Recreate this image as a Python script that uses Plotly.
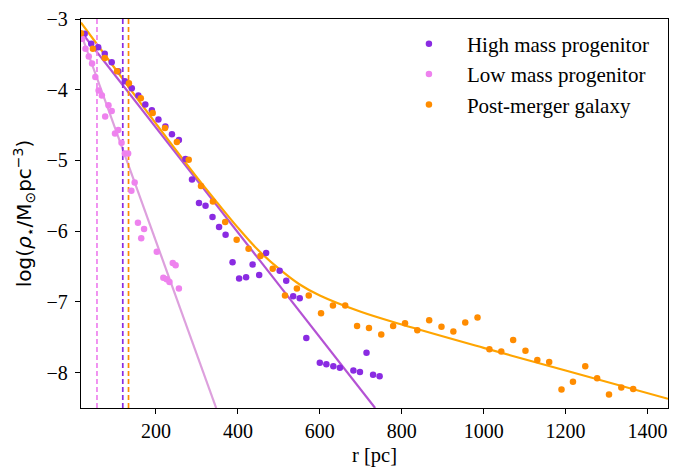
import plotly.graph_objects as go

# ---- data ----
high_r = [26, 42, 59, 75, 92, 108, 124, 141, 157, 174, 190, 206, 223, 239, 256, 272, 288,
          305, 321, 338, 354, 370, 387, 403, 420, 436, 452, 469, 502, 518, 535, 551, 567,
          600, 616, 633, 649, 682, 698, 714, 730, 746]
high_y = [-3.21, -3.35, -3.40, -3.49, -3.61, -3.74, -3.88, -3.98, -4.08, -4.21, -4.29, -4.42,
          -4.52, -4.63, -4.71, -4.98, -5.27, -5.60, -5.64, -5.80, -5.94, -6.05, -6.44, -6.67,
          -6.65, -6.47, -6.62, -6.31, -6.56, -6.70, -6.92, -6.95, -7.51, -7.86, -7.88, -7.91,
          -7.93, -7.97, -7.99, -7.72, -8.03, -8.05]

low_r = [20, 28, 36, 44, 52, 60, 68, 76, 84, 92, 100, 108, 116, 124, 132, 140, 148, 156,
         164, 171, 202, 218, 226, 233, 241, 248, 256]
low_y = [-3.28, -3.42, -3.53, -3.63, -3.82, -4.01, -4.08, -4.38, -4.22, -4.30, -4.62, -4.57,
         -4.75, -4.90, -4.90, -5.43, -5.31, -5.88, -6.10, -5.97, -6.29, -6.66, -6.68, -6.72,
         -6.45, -6.48, -6.81]

post_r = [17, 46, 75, 105, 134, 163, 192, 222, 251, 280, 310, 339, 369, 397, 426, 455, 485,
          515, 544, 573, 603, 632, 662, 691, 720, 750, 779, 808, 838, 867, 897, 926, 955, 985,
          1014, 1043, 1072, 1102, 1131, 1160, 1190, 1218, 1248, 1277, 1306, 1336, 1365]
post_y = [-3.20, -3.42, -3.55, -3.74, -3.91, -4.12, -4.33, -4.54, -4.74, -4.99, -5.36, -5.58,
          -5.87, -6.12, -6.25, -6.35, -6.53, -6.91, -6.81, -6.91, -7.16, -7.05, -7.05, -7.34,
          -7.37, -7.46, -7.34, -7.30, -7.40, -7.26, -7.35, -7.42, -7.29, -7.22, -7.67, -7.70,
          -7.54, -7.69, -7.82, -7.85, -8.24, -8.13, -7.91, -8.08, -8.31, -8.21, -8.23]

# fitted profiles
high_fit_r = [17, 735]
high_fit_y = [-3.18, -8.50]
low_fit_r = [17, 347]
low_fit_y = [-3.21, -8.50]
post_fit_r = [17, 100, 200, 300, 350, 400, 450, 500, 550, 600, 700, 800, 1000, 1200, 1450]
post_fit_y = [-3.05, -3.70, -4.48, -5.24, -5.60, -5.95, -6.27, -6.53, -6.75, -6.91, -7.14,
              -7.32, -7.65, -7.97, -8.37]

# characteristic radii (dashed lines)
r_low, r_high, r_post = 56, 119, 133

labels = ["High mass progenitor", "Low mass progenitor", "Post-merger galaxy"]
dot_colors = ["#8a2be2", "#ee82ee", "#ff8c00"]
line_colors = ["#b452d4", "#dda0dd", "#ffa500"]

SERIF = "Liberation Serif"

fig = go.Figure()

# fit lines
fig.add_trace(go.Scatter(x=low_fit_r, y=low_fit_y, mode="lines",
                         line=dict(color=line_colors[1], width=2.2), showlegend=False, hoverinfo="skip"))
fig.add_trace(go.Scatter(x=high_fit_r, y=high_fit_y, mode="lines",
                         line=dict(color=line_colors[0], width=2.2), showlegend=False, hoverinfo="skip"))
fig.add_trace(go.Scatter(x=post_fit_r, y=post_fit_y, mode="lines", line_shape="spline",
                         line=dict(color=line_colors[2], width=2.2), showlegend=False, hoverinfo="skip"))

# vertical dashed lines
for rv, col in [(r_low, dot_colors[1]), (r_high, dot_colors[0]), (r_post, dot_colors[2])]:
    fig.add_trace(go.Scatter(x=[rv, rv], y=[-8.5, -3], mode="lines",
                             line=dict(color=col, width=1.7, dash="5px,3px"),
                             showlegend=False, hoverinfo="skip"))

# data points
for i, (xs, ys) in enumerate([(high_r, high_y), (low_r, low_y), (post_r, post_y)]):
    fig.add_trace(go.Scatter(x=xs, y=ys, mode="markers", name=labels[i],
                             marker=dict(color=dot_colors[i], size=6.5, line=dict(width=0))))

axis_common = dict(showline=True, linecolor="black", linewidth=1.3, mirror=True,
                   ticks="outside", ticklen=5, tickwidth=1.2, tickcolor="black",
                   showgrid=False, zeroline=False, automargin=False,
                   tickfont=dict(family=SERIF, size=20, color="black"))

fig.update_xaxes(range=[17, 1450], tickmode="array", tickvals=[200, 400, 600, 800, 1000, 1200, 1400],
                 title=dict(text="r [pc]", font=dict(family=SERIF, size=20.5, color="black"), standoff=6),
                 **axis_common)
fig.update_yaxes(range=[-8.5, -3], tickmode="array", tickvals=[-8, -7, -6, -5, -4, -3],
                 ticklabelstandoff=3,
                 title=dict(text="log(<i>ρ</i><sub>⋆</sub>/M<sub>⊙</sub>pc<sup>−3</sup>)",
                            font=dict(family="DejaVu Sans", size=20, color="black"), standoff=9),
                 **axis_common)

fig.update_layout(
    width=686, height=467,
    margin=dict(l=81, r=18, t=19, b=59),
    plot_bgcolor="white", paper_bgcolor="white",
    legend=dict(x=0.528, y=0.988, xanchor="left", yanchor="top",
                font=dict(family=SERIF, size=21, color="black"),
                itemwidth=66, bgcolor="rgba(0,0,0,0)"),
)

fig.write_html("out.html")
